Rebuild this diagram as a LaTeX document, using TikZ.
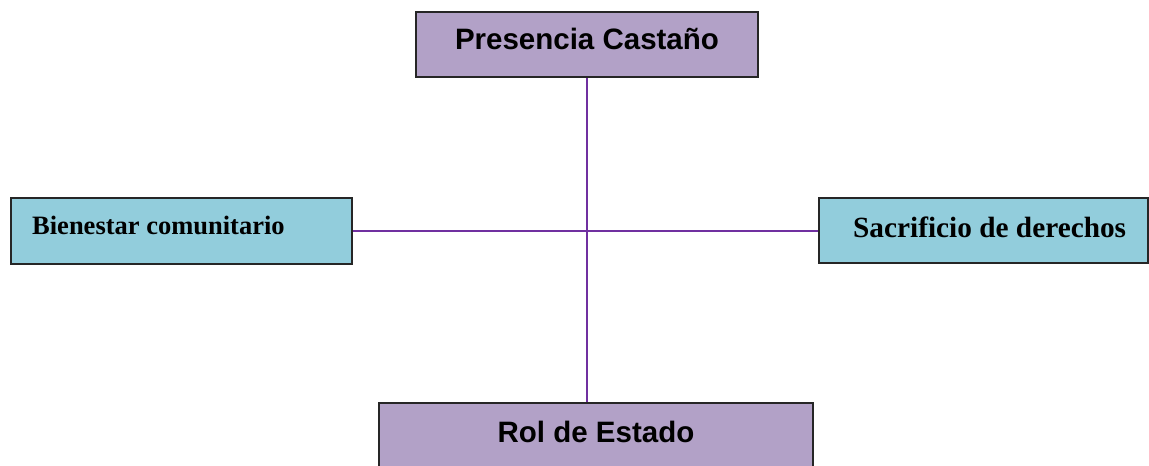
\documentclass[tikz,border=0pt]{standalone}
\usepackage{fontspec}
\setmainfont{Liberation Serif}
\newfontfamily\arialf{Liberation Sans}
\definecolor{lilac}{HTML}{B2A1C7}
\definecolor{skyb}{HTML}{92CDDC}
\definecolor{linep}{HTML}{7030A0}
\begin{document}
\begin{tikzpicture}[x=1pt,y=-1pt,
  boxbase/.style={draw=black!85, line width=2pt, rectangle, inner sep=0pt},
  pbox/.style={boxbase, fill=lilac},
  bbox/.style={boxbase, fill=skyb},
  stext/.style={font=\arialf\bfseries\fontsize{29.5}{31}\selectfont, inner sep=0pt, anchor=base},
  rtext/.style={font=\bfseries, inner sep=0pt, anchor=base west},
  conn/.style={draw=linep, line width=2.2pt}]
\useasboundingbox (0,0) rectangle (1149,466);
% boxes
\node[pbox, minimum width=342pt, minimum height=65pt] (top) at (587,44.5) {};
\node[bbox, minimum width=341pt, minimum height=66pt] (left) at (181.5,230.5) {};
\node[bbox, minimum width=329pt, minimum height=65pt] (right) at (983.5,230.5) {};
\node[pbox, minimum width=434pt, minimum height=70pt] (bottom) at (596,438) {};
% connectors
\coordinate (hc) at (587,231);
\draw[conn] (top.south -| hc) -- (hc |- bottom.north);
\draw[conn] (left.east |- hc) -- (right.west |- hc);
% texts
\node[stext] (toptext) at (587,49.5) {Presencia Castaño};
\node[stext] (bottomtext) at (596,442) {Rol de Estado};
\node[rtext, font=\bfseries\fontsize{26.5}{28}\selectfont] (lefttext) at (32,234) {Bienestar comunitario};
\node[rtext, font=\bfseries\fontsize{29.3}{31}\selectfont] (righttext) at (853,237) {Sacrificio de derechos};
\end{tikzpicture}
\end{document}
